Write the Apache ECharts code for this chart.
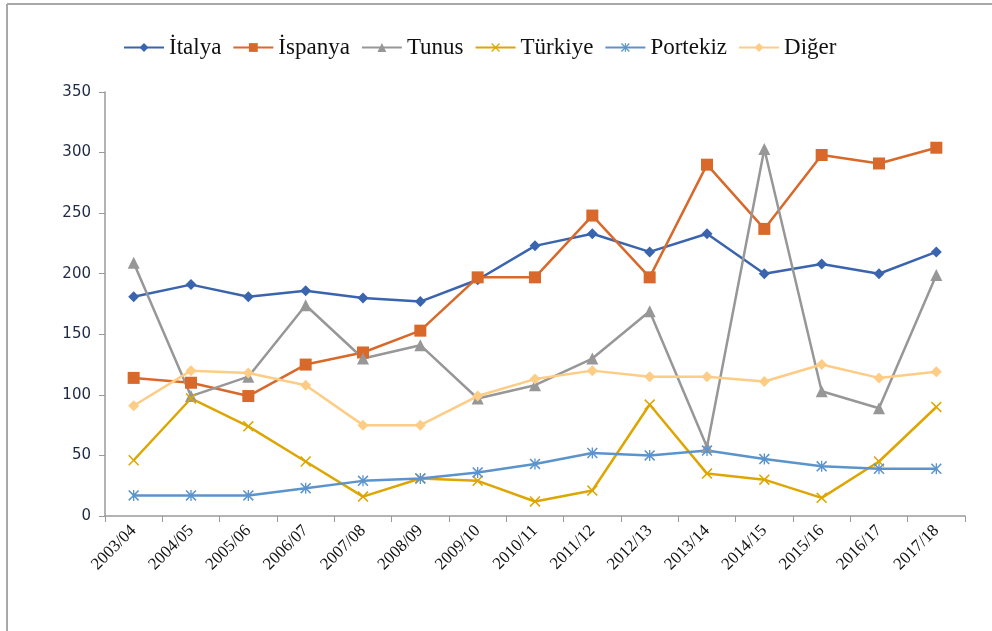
<!DOCTYPE html>
<html>
<head>
<meta charset="utf-8">
<script src="https://cdn.jsdelivr.net/npm/echarts@6/dist/echarts.min.js"></script>
<style>
  html, body { margin: 0; padding: 0; background: #fff; }
  #main { width: 992px; height: 631px; }
</style>
</head>
<body>
<div id="main"></div>
<script>
// sezonlar
var seasons = ['2003/04', '2004/05', '2005/06', '2006/07', '2007/08', '2008/09', '2009/10',
  '2010/11', '2011/12', '2012/13', '2013/14', '2014/15', '2015/16', '2016/17', '2017/18'];
var italya = [181, 191, 181, 186, 180, 177, 195, 223, 233, 218, 233, 200, 208, 200, 218];
var ispanya = [114, 110, 99, 125, 135, 153, 197, 197, 248, 197, 290, 237, 298, 291, 304];
var tunus = [209, 99, 115, 174, 130, 141, 97, 108, 130, 169, 57, 303, 103, 89, 199];
var turkiye = [46, 97, 74, 45, 16, 31, 29, 12, 21, 92, 35, 30, 15, 45, 90];
var portekiz = [17, 17, 17, 23, 29, 31, 36, 43, 52, 50, 54, 47, 41, 39, 39];
var diger = [91, 120, 118, 108, 75, 75, 99, 113, 120, 115, 115, 111, 125, 114, 119];
var yTicks = [0, 50, 100, 150, 200, 250, 300, 350];

var xMark = 'path://M0,1L1,0L5,4L9,0L10,1L6,5L10,9L9,10L5,6L1,10L0,9L4,5Z';
var starMark = 'path://M0,1L1,0L5,4L9,0L10,1L6,5L10,9L9,10L5,6L1,10L0,9L4,5Z M4.4,0L5.6,0L5.6,10L4.4,10Z';

var chart = echarts.init(document.getElementById('main'));

function mkSeries(name, data, color, symbol, size) {
  return {
    name: name,
    type: 'line',
    data: data,
    symbol: symbol,
    symbolSize: size,
    lineStyle: { color: color, width: 2.5 },
    itemStyle: { color: color },
    emphasis: { disabled: true }
  };
}

var option = {
  animation: false,
  backgroundColor: '#fff',
  graphic: [
    { type: 'line', shape: { x1: 7, y1: 4, x2: 992, y2: 4 }, style: { stroke: '#a8a8a8', lineWidth: 2 } },
    { type: 'line', shape: { x1: 7, y1: 4, x2: 7, y2: 631 }, style: { stroke: '#a8a8a8', lineWidth: 2 } }
  ],
  legend: {
    top: 31,
    left: 118,
    itemWidth: 40,
    itemHeight: 11,
    itemGap: 11,
    textStyle: { fontFamily: 'Liberation Serif', fontSize: 23, color: '#111' },
    data: ['İtalya', 'İspanya', 'Tunus', 'Türkiye', 'Portekiz', 'Diğer']
  },
  grid: { left: 105, right: 27, top: 92, bottom: 115 },
  xAxis: {
    type: 'category',
    data: seasons,
    boundaryGap: true,
    axisLine: { lineStyle: { color: '#9a9a9a', width: 1.5 } },
    axisTick: { show: true, length: 6, lineStyle: { color: '#9a9a9a' } },
    axisLabel: {
      rotate: 45,
      interval: 0,
      margin: 12,
      fontFamily: 'Liberation Serif',
      fontSize: 17,
      color: '#111'
    }
  },
  yAxis: {
    type: 'value',
    min: yTicks[0],
    max: yTicks[yTicks.length - 1],
    interval: 50,
    splitLine: { show: false },
    axisLine: { show: true, lineStyle: { color: '#9a9a9a', width: 1.5 } },
    axisTick: { show: true, length: 6, lineStyle: { color: '#9a9a9a' } },
    axisLabel: {
      margin: 14,
      fontFamily: 'DejaVu Sans',
      fontSize: 15,
      color: '#1e2a44'
    }
  },
  series: [
    mkSeries('İtalya', italya, '#3a64ae', 'diamond', 11),
    mkSeries('İspanya', ispanya, '#d8692a', 'rect', 12),
    mkSeries('Tunus', tunus, '#979797', 'triangle', 12),
    mkSeries('Türkiye', turkiye, '#dea602', xMark, 11),
    mkSeries('Portekiz', portekiz, '#5b94cc', starMark, 11),
    mkSeries('Diğer', diger, '#fdcc85', 'diamond', 11)
  ]
};

chart.setOption(option);
</script>
</body>
</html>
